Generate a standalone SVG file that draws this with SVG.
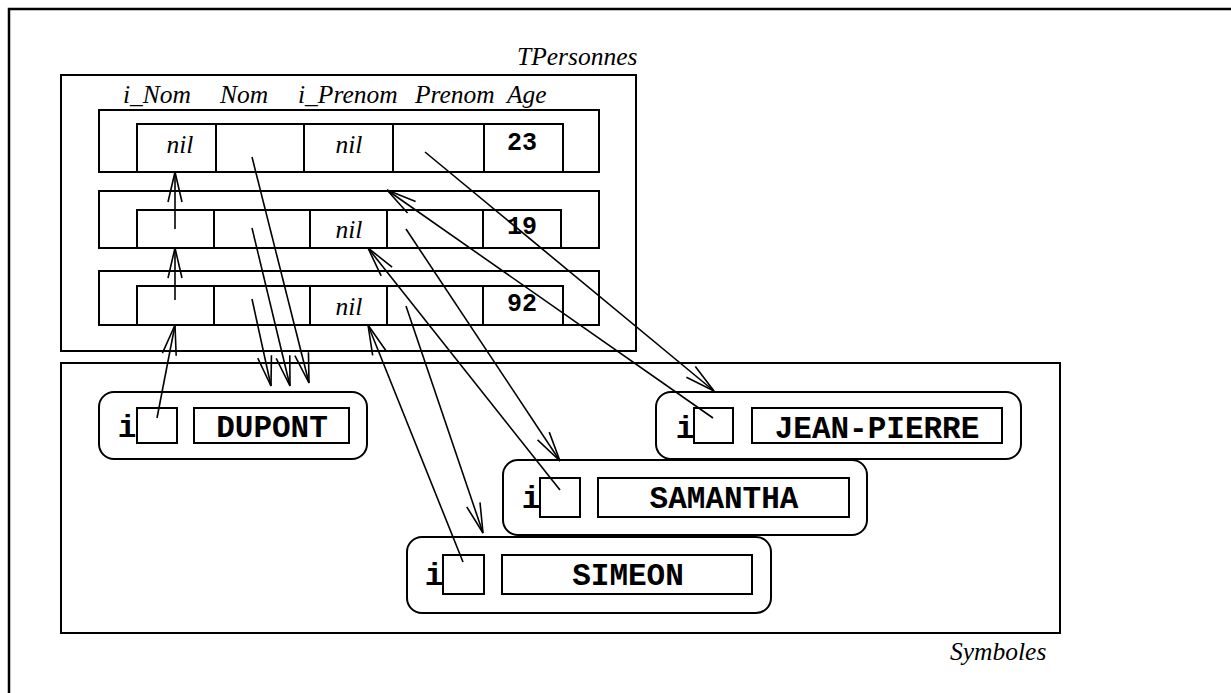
<svg xmlns="http://www.w3.org/2000/svg" width="1231" height="693" viewBox="0 0 1231 693">
<style>
.box{fill:none;stroke:#000;stroke-width:2}
.cell{fill:none;stroke:#000;stroke-width:2}
.lbl{font-family:"Liberation Serif",serif;font-style:italic;font-size:25.5px;fill:#000}
.num{font-family:"Liberation Mono",monospace;font-weight:bold;font-size:25px;fill:#000;text-anchor:middle}
.name{font-family:"Liberation Mono",monospace;font-weight:bold;font-size:31px;fill:#000;text-anchor:middle}
.arr{fill:none;stroke:#000;stroke-width:1.6;marker-end:url(#v)}
</style>
<defs>
<marker id="v" markerUnits="userSpaceOnUse" viewBox="-32 -10 34 20" markerWidth="34" markerHeight="20" refX="0" refY="0" orient="auto" overflow="visible">
<path d="M-30,-7 L0,0 L-30,7" fill="none" stroke="#000" stroke-width="1.6"/>
</marker>
</defs>
<rect x="0" y="0" width="1231" height="693" fill="#fff"/>
<rect x="9" y="9" width="1240" height="700" fill="none" stroke="#000" stroke-width="2.5"/>

<g id="TPersonnes">
<rect class="box" x="61" y="75" width="575" height="276"/>
<text class="lbl" x="517" y="65">TPersonnes</text>
<text class="lbl" x="123" y="103">i_Nom</text>
<text class="lbl" x="220" y="103">Nom</text>
<text class="lbl" x="298" y="103">i_Prenom</text>
<text class="lbl" x="415" y="103">Prenom</text>
<text class="lbl" x="507" y="103">Age</text>
</g>

<g id="row1">
<rect class="box" x="99" y="110" width="500" height="62"/>
<rect class="cell" x="137" y="124" width="79" height="48"/>
<rect class="cell" x="216" y="124" width="88" height="48"/>
<rect class="cell" x="304" y="124" width="89" height="48"/>
<rect class="cell" x="393" y="124" width="91" height="48"/>
<rect class="cell" x="484" y="124" width="79" height="48"/>
<text class="lbl" x="180" y="153" text-anchor="middle">nil</text>
<text class="lbl" x="349" y="153" text-anchor="middle">nil</text>
<text class="num" x="522" y="150">23</text>
</g>

<g id="row2">
<rect class="box" x="99" y="191" width="500" height="57"/>
<rect class="cell" x="137" y="210" width="77" height="38"/>
<rect class="cell" x="214" y="210" width="96" height="38"/>
<rect class="cell" x="310" y="210" width="77" height="38"/>
<rect class="cell" x="387" y="210" width="96" height="38"/>
<rect class="cell" x="483" y="210" width="78" height="38"/>
<text class="lbl" x="349" y="238" text-anchor="middle">nil</text>
<text class="num" x="522" y="234">19</text>
</g>

<g id="row3">
<rect class="box" x="99" y="271" width="500" height="54"/>
<rect class="cell" x="137" y="286" width="77" height="39"/>
<rect class="cell" x="214" y="286" width="96" height="39"/>
<rect class="cell" x="310" y="286" width="77" height="39"/>
<rect class="cell" x="387" y="286" width="96" height="39"/>
<rect class="cell" x="483" y="286" width="80" height="39"/>
<text class="lbl" x="349" y="315" text-anchor="middle">nil</text>
<text class="num" x="522" y="311">92</text>
</g>

<g id="Symboles">
<rect class="box" x="61" y="363" width="999" height="270"/>
<text class="lbl" x="950" y="660">Symboles</text>
</g>

<g id="DUPONT">
<rect class="box" x="99" y="392" width="268" height="67" rx="15"/>
<rect class="cell" x="137" y="408" width="40" height="35"/>
<rect class="cell" x="194" y="408" width="155" height="35"/>
<text class="name" x="127" y="437">i</text>
<text class="name" x="272" y="437">DUPONT</text>
</g>

<g id="JEAN-PIERRE">
<rect class="box" x="656" y="392" width="365" height="67" rx="15"/>
<rect class="cell" x="694" y="408" width="39" height="35"/>
<rect class="cell" x="752" y="408" width="250" height="35"/>
<text class="name" x="685" y="438">i</text>
<text class="name" x="877" y="438">JEAN-PIERRE</text>
</g>

<g id="SAMANTHA">
<rect class="box" x="503" y="460" width="364" height="75" rx="15"/>
<rect class="cell" x="540" y="478" width="40" height="39"/>
<rect class="cell" x="598" y="478" width="251" height="39"/>
<text class="name" x="531" y="508">i</text>
<text class="name" x="724" y="508">SAMANTHA</text>
</g>

<g id="SIMEON">
<rect class="box" x="407" y="537" width="364" height="76" rx="15"/>
<rect class="cell" x="443" y="555" width="41" height="39"/>
<rect class="cell" x="502" y="555" width="250" height="39"/>
<text class="name" x="434" y="585">i</text>
<text class="name" x="628" y="585">SIMEON</text>
</g>

<g id="connectors">
<line class="arr" x1="157" y1="418" x2="175" y2="325"/>
<line class="arr" x1="175" y1="300" x2="175" y2="248"/>
<line class="arr" x1="175" y1="229" x2="175" y2="172"/>
<line class="arr" x1="252" y1="299" x2="271" y2="386"/>
<line class="arr" x1="252" y1="228" x2="290" y2="386"/>
<line class="arr" x1="252" y1="157" x2="309" y2="383"/>
<line class="arr" x1="425" y1="152" x2="714" y2="391"/>
<line class="arr" x1="713" y1="418" x2="387" y2="190"/>
<line class="arr" x1="406" y1="229" x2="560" y2="461"/>
<line class="arr" x1="560" y1="490" x2="368" y2="248"/>
<line class="arr" x1="406" y1="306" x2="483" y2="533"/>
<line class="arr" x1="463" y1="562" x2="368" y2="325"/>
</g>
</svg>
